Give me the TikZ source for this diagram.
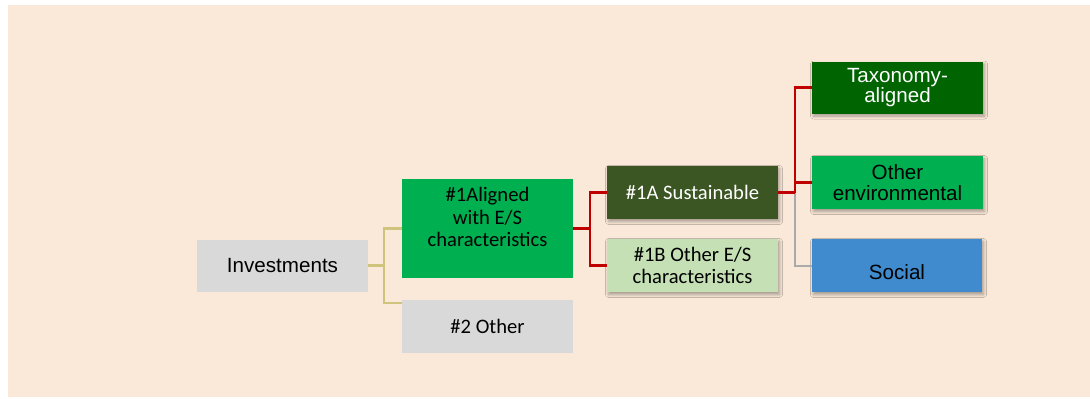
\documentclass[tikz,border=0pt]{standalone}
\usepackage{fontspec}
\setmainfont{Carlito}
\newfontfamily\arialf{Liberation Sans}
\newfontfamily\calf{Carlito}
\usetikzlibrary{shadows.blur,positioning}
\definecolor{bgpeach}{RGB}{250,232,216}
\definecolor{boxgray}{RGB}{217,217,217}
\definecolor{brightgreen}{RGB}{0,176,80}
\definecolor{darkolive}{RGB}{59,85,35}
\definecolor{palegreen}{RGB}{197,224,180}
\definecolor{deepgreen}{RGB}{0,100,0}
\definecolor{socialblue}{RGB}{64,138,206}
\definecolor{linered}{RGB}{192,0,0}
\definecolor{lineolive}{RGB}{208,196,124}
\definecolor{linegray}{RGB}{170,170,170}
\tikzset{
  box/.style={rectangle, inner sep=0pt, minimum width=171pt, minimum height=53pt, align=center, text=black},
  shad/.style={blur shadow={shadow xshift=1.5pt, shadow yshift=-2.5pt, shadow blur radius=3pt, shadow blur steps=6, shadow opacity=35}},
  cal/.style={font=\calf\fontsize{20.6}{22.5}\selectfont},
  ari/.style={font=\arialf\fontsize{20.6}{20.6}\selectfont},
  olivelink/.style={draw=lineolive, line width=2.2pt},
  redlink/.style={draw=linered, line width=2.4pt},
  graylink/.style={draw=linegray, line width=2pt},
}
\begin{document}
\begin{tikzpicture}[x=1pt,y=-1pt]
\useasboundingbox (0,0) rectangle (1090,399);
\fill[bgpeach] (8,5) rectangle (1090,397);

% connectors first (behind boxes)
\coordinate (j1) at (384,265.5);
\coordinate (j2) at (590,228.5);
\coordinate (j3) at (795,192.5);

\node[box, fill=boxgray, minimum height=52pt, ari] (inv) at (282.5,265.5) {Investments};
\node[box, fill=brightgreen, minimum height=99pt,
      label={[cal, align=center, yshift=11.5pt]center:\#1Aligned\\with E/S\\characteristics}] (al) at (487.5,228.5) {};
\node[box, fill=boxgray, cal] (oth) at (487.5,326.5) {\#2 Other};
\node[box, fill=darkolive, text=white, shad, cal] (sus) at (692.5,192.5) {\#1A Sustainable};
\node[box, fill=palegreen, shad, cal] (ob) at (692.5,265.5) {\#1B Other E/S\\characteristics};
\node[box, fill=deepgreen, text=white, minimum height=52pt, shad, ari] (tax) at (897.5,87.5) {Taxonomy-\\aligned};
\node[box, fill=brightgreen, shad, ari] (env) at (897.5,182.5) {Other\\environmental};
\node[box, fill=socialblue, minimum width=170pt, shad,
      label={[ari, text=black, yshift=-6.5pt]center:Social}] (soc) at (897,265.5) {};

\begin{scope}[on background layer/.style={}]
\draw[olivelink] (inv.east) -- (j1);
\draw[olivelink] (j1) |- (al.west);
\draw[olivelink] (j1) |- ([yshift=-3pt]oth.north west);
\draw[redlink] (al.east) -- (j2);
\draw[redlink] (j2) |- (sus.west);
\draw[redlink] (j2) |- (ob.west);
\draw[graylink] (j3) |- (soc.west);
\draw[redlink] (sus.east) -- (j3);
\draw[redlink] (j3) |- (tax.west);
\draw[redlink] (j3) |- (env.west);
\end{scope}
\end{tikzpicture}
\end{document}
